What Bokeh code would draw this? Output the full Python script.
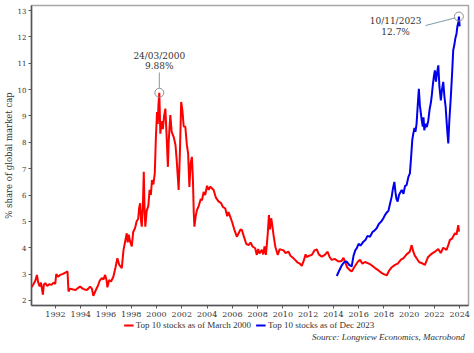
from bokeh.plotting import figure
from bokeh.layouts import column
from bokeh.models import (FixedTicker, Legend, LegendItem, Range1d)
from bokeh.core.properties import value
from bokeh.embed import file_html
from bokeh.resources import INLINE

# ---- data ----
red_x = [1990.10, 1990.25, 1990.40, 1990.53, 1990.62, 1990.74, 1990.85, 1991.00, 1991.08, 1991.19,
         1991.35, 1991.50, 1991.70, 1991.85, 1991.98, 1992.06, 1992.20, 1992.37, 1992.55, 1992.75,
         1992.95, 1993.03, 1993.15, 1993.40, 1993.60, 1993.80, 1993.95, 1994.15, 1994.30, 1994.48,
         1994.60, 1994.74, 1994.88, 1995.00, 1995.15, 1995.35, 1995.50, 1995.67, 1995.80, 1995.93,
         1996.05, 1996.11, 1996.25, 1996.40, 1996.58, 1996.75, 1996.90, 1997.05, 1997.25, 1997.38,
         1997.50, 1997.64, 1997.72, 1997.80, 1997.90, 1998.04, 1998.15, 1998.30, 1998.42, 1998.55,
         1998.62, 1998.70, 1998.78, 1998.83, 1998.92, 1998.99, 1999.05, 1999.11, 1999.22, 1999.35,
         1999.45, 1999.55, 1999.64, 1999.75, 1999.86, 1999.95, 2000.04, 2000.10, 2000.15, 2000.22,
         2000.30, 2000.40, 2000.50, 2000.60, 2000.70, 2000.80, 2000.90, 2000.96, 2001.09, 2001.20,
         2001.36, 2001.50, 2001.60, 2001.75, 2001.85, 2001.95, 2002.05, 2002.15, 2002.28, 2002.40,
         2002.50, 2002.60, 2002.70, 2002.80, 2002.88, 2002.95, 2003.00, 2003.10, 2003.20, 2003.35,
         2003.50, 2003.60, 2003.73, 2003.85, 2004.00, 2004.13, 2004.25, 2004.40, 2004.52, 2004.70,
         2004.92, 2005.10, 2005.25, 2005.44, 2005.60, 2005.70, 2005.83, 2006.00, 2006.15, 2006.36,
         2006.50, 2006.65, 2006.76, 2006.90, 2007.10, 2007.29, 2007.45, 2007.60, 2007.81, 2007.90,
         2007.94, 2008.05, 2008.15, 2008.34, 2008.45, 2008.55, 2008.66, 2008.80, 2008.90, 2008.98,
         2009.08, 2009.18, 2009.26, 2009.40, 2009.60, 2009.75, 2010.06, 2010.20, 2010.45, 2010.60,
         2010.80, 2010.97, 2011.15, 2011.35, 2011.50, 2011.65, 2011.80, 2011.90, 2012.10, 2012.29,
         2012.50, 2012.69, 2012.85, 2013.08, 2013.30, 2013.55, 2013.70, 2013.87, 2014.10, 2014.40,
         2014.65, 2014.80, 2014.92, 2015.10, 2015.30, 2015.45, 2015.70, 2015.95, 2016.11, 2016.30,
         2016.50, 2016.77, 2017.00, 2017.30, 2017.55, 2017.80, 2018.00, 2018.22, 2018.40, 2018.60,
         2018.88, 2019.10, 2019.35, 2019.54, 2019.80, 2020.05, 2020.20, 2020.33, 2020.45, 2020.59,
         2020.80, 2021.00, 2021.25, 2021.50, 2021.80, 2022.04, 2022.30, 2022.50, 2022.70, 2022.96,
         2023.10, 2023.23, 2023.40, 2023.62, 2023.75, 2023.89, 2023.95]
red_y = [2.50, 2.62, 2.75, 2.97, 2.70, 2.53, 2.68, 2.22, 2.60, 2.66,
         2.55, 2.62, 2.60, 2.68, 2.63, 3.00, 2.90, 2.97, 3.00, 3.05,
         3.10, 2.34, 2.45, 2.42, 2.40, 2.48, 2.53, 2.45, 2.42, 2.40,
         2.45, 2.53, 2.45, 2.18, 2.35, 2.55, 2.75, 2.85, 2.80, 2.97,
         2.75, 2.50, 2.78, 2.72, 2.90, 3.25, 3.60, 3.35, 3.23, 3.90,
         4.20, 4.55, 4.20, 4.50, 4.25, 4.05, 4.60, 4.75, 5.00, 5.10,
         5.50, 5.69, 5.00, 4.80, 5.60, 6.88, 5.50, 4.80, 5.40, 5.60,
         6.20, 6.00, 6.57, 6.40, 6.82, 8.20, 9.15, 8.70, 9.40, 9.88,
         8.33, 8.80, 8.50, 9.00, 9.28, 8.20, 7.07, 8.00, 9.03, 8.40,
         8.20, 7.90, 7.30, 6.19, 7.60, 9.53, 9.20, 8.60, 8.59, 7.90,
         7.58, 6.31, 7.20, 7.45, 6.60, 5.30, 4.80, 5.20, 5.43, 5.60,
         5.85, 5.80, 6.12, 6.00, 6.35, 6.20, 6.32, 6.25, 6.19, 5.90,
         5.75, 5.70, 5.55, 5.49, 5.20, 5.35, 5.18, 4.95, 4.70, 4.42,
         4.55, 4.70, 4.67, 4.45, 4.15, 4.10, 4.20, 4.05, 3.98, 3.80,
         3.73, 3.95, 3.78, 3.92, 3.75, 4.05, 3.73, 4.50, 5.24, 4.70,
         5.12, 4.80, 4.49, 4.05, 3.73, 3.95, 3.90, 3.80, 3.85, 3.70,
         3.62, 3.54, 3.45, 3.40, 3.31, 3.50, 3.75, 3.65, 3.70, 3.73,
         3.90, 3.94, 3.75, 3.66, 3.72, 3.85, 3.65, 3.54, 3.58, 3.48,
         3.50, 3.62, 3.48, 3.25, 3.15, 3.10, 3.30, 3.48, 3.54, 3.40,
         3.46, 3.41, 3.35, 3.23, 3.15, 3.05, 3.00, 2.95, 3.12, 3.25,
         3.35, 3.40, 3.55, 3.60, 3.75, 3.85, 4.10, 3.85, 3.70, 3.60,
         3.45, 3.42, 3.35, 3.65, 3.78, 3.85, 3.95, 3.80, 4.00, 3.92,
         4.10, 4.30, 4.35, 4.55, 4.50, 4.86, 4.61]

blue_x = [2014.27, 2014.45, 2014.65, 2014.85, 2015.06, 2015.25, 2015.45, 2015.60, 2015.75, 2015.85,
          2016.00, 2016.15, 2016.38, 2016.55, 2016.70, 2016.90, 2017.10, 2017.25, 2017.43, 2017.60,
          2017.80, 2017.96, 2018.10, 2018.25, 2018.36, 2018.50, 2018.62, 2018.72, 2018.83, 2018.92,
          2019.00, 2019.09, 2019.20, 2019.30, 2019.41, 2019.55, 2019.68, 2019.80, 2019.95, 2020.06,
          2020.15, 2020.25, 2020.33, 2020.42, 2020.50, 2020.59, 2020.68, 2020.77, 2020.85, 2020.98,
          2021.08, 2021.14, 2021.20, 2021.30, 2021.40, 2021.52, 2021.62, 2021.72, 2021.78, 2021.88,
          2021.96, 2022.04, 2022.12, 2022.20, 2022.31, 2022.40, 2022.51, 2022.60, 2022.70, 2022.80,
          2022.89, 2022.98, 2023.04, 2023.10, 2023.18, 2023.30, 2023.40, 2023.49, 2023.58, 2023.66,
          2023.75, 2023.82, 2023.90, 2023.94, 2024.00]
blue_y = [2.93, 3.12, 3.32, 3.45, 3.48, 3.35, 3.29, 3.70, 3.92, 3.98,
          4.15, 4.08, 4.23, 4.30, 4.45, 4.42, 4.60, 4.65, 4.74, 4.90,
          5.00, 5.12, 5.25, 5.35, 5.40, 5.70, 5.94, 6.25, 6.50, 6.10,
          5.85, 5.75, 6.00, 6.10, 6.19, 6.05, 6.35, 6.38, 6.70, 6.82,
          7.40, 8.10, 8.33, 8.55, 8.40, 8.71, 9.40, 10.03, 9.40, 8.90,
          8.60, 8.95, 8.46, 8.70, 8.58, 8.84, 9.25, 9.50, 9.72, 10.20,
          10.50, 10.73, 10.30, 10.60, 10.92, 10.10, 9.59, 10.00, 10.29, 9.70,
          9.34, 8.70, 8.30, 7.96, 8.80, 9.72, 10.60, 11.49, 11.70, 11.95,
          12.12, 12.40, 12.55, 12.77, 12.40]

x_ticks = list(range(1992, 2025, 2))
y_ticks = list(range(2, 14))

red_label = "Top 10 stocks as of March 2000"
blue_label = "Top 10 stocks as of Dec 2023"
y_title = "% share of global market cap"
source_text = "Source: Longview Economics, Macrobond"

peak_2000 = (2000.22, 9.88, "24/03/2000", "9.88%")
peak_2023 = (2023.94, 12.77, "10/11/2023", "12.7%")

FONT = "DejaVu Serif"
FONT2 = "Liberation Serif"
TXT = "#333333"
RED = "#ff0000"
BLUE = "#0000ee"

p = figure(frame_width=437, frame_height=300, output_backend="svg", toolbar_location=None,
           x_range=Range1d(1990.1, 2024.7), y_range=Range1d(1.81, 13.19),
           min_border_left=0, min_border_right=7, min_border_top=5, min_border_bottom=0)
p.background_fill_color = "white"
p.border_fill_color = "white"
p.outline_line_color = "#a8a8a8"
p.outline_line_width = 1.5
p.xgrid.visible = False
p.ygrid.visible = False

p.line(red_x, red_y, line_color=RED, line_width=2)
p.line(blue_x, blue_y, line_color=BLUE, line_width=2)

# annotations
for (ax, ay, t1, t2), tx, ty1, ty2, lx0, ly0, lx1, ly1 in [
        (peak_2000, 2000.22, 11.29, 10.89, 2000.22, 10.65, 2000.22, 10.05),
        (peak_2023, 2018.93, 12.59, 12.20, 2021.30, 12.43, 2023.65, 12.72)]:
    p.scatter([ax], [ay], size=9, fill_color=None, line_color="#909090", line_width=1)
    p.segment([lx0], [ly0], [lx1], [ly1], line_color="#7f9aaa", line_width=1)
    p.text([tx], [ty1], text=[t1], text_font=value(FONT), text_font_size="9px",
           text_color=TXT, text_align="center", text_baseline="middle")
    p.text([tx], [ty2], text=[t2], text_font=value(FONT), text_font_size="9px",
           text_color=TXT, text_align="center", text_baseline="middle")

# axes
p.xaxis.ticker = FixedTicker(ticks=x_ticks)
p.yaxis.ticker = FixedTicker(ticks=y_ticks)
for ax in (p.xaxis[0], p.yaxis[0]):
    ax.axis_line_color = "#555555"
    ax.axis_line_width = 1.5
    ax.major_tick_line_color = "#555555"
    ax.major_tick_in = 0
    ax.major_tick_out = 3
    ax.minor_tick_line_color = None
    ax.major_label_text_font = FONT
    ax.major_label_text_color = TXT
p.xaxis.major_label_text_font_size = "8px"
p.xaxis.major_label_standoff = 3
p.yaxis.major_label_text_font_size = "7px"
p.yaxis.major_label_standoff = 2
p.yaxis.axis_label = y_title
p.yaxis.axis_label_text_font = FONT
p.yaxis.axis_label_text_font_size = "8.5px"
p.yaxis.axis_label_text_font_style = "normal"
p.yaxis.axis_label_text_color = TXT
p.yaxis.axis_label_standoff = 1

# footer: legend + source (legend proxies use the same series, outside this strip's range)
f = figure(width=474, height=34, output_backend="svg", toolbar_location=None,
           x_range=Range1d(0, 474), y_range=Range1d(0, 34),
           x_axis_type=None, y_axis_type=None,
           min_border_left=0, min_border_right=0, min_border_top=0, min_border_bottom=0)
f.outline_line_color = None
f.xgrid.visible = False
f.ygrid.visible = False
lr = f.line(red_x, red_y, line_color=RED, line_width=2)
lb = f.line(blue_x, blue_y, line_color=BLUE, line_width=2)
legend = Legend(items=[LegendItem(label=red_label, renderers=[lr]),
                       LegendItem(label=blue_label, renderers=[lb])],
                orientation="horizontal", location="top_center",
                label_text_font=FONT2, label_text_font_size="9px", label_text_color=TXT,
                glyph_width=10, glyph_height=8, label_standoff=2, spacing=5,
                padding=0, margin=1, border_line_color=None, background_fill_alpha=0,
                label_height=8)
f.add_layout(legend, "center")
f.text([471], [17], text=[source_text], text_font=value(FONT2), text_font_size="9px",
       text_font_style="italic", text_color=TXT, text_align="right", text_baseline="middle")

layout = column(p, f, spacing=0)
open("out.html", "w").write(file_html(layout, INLINE))
